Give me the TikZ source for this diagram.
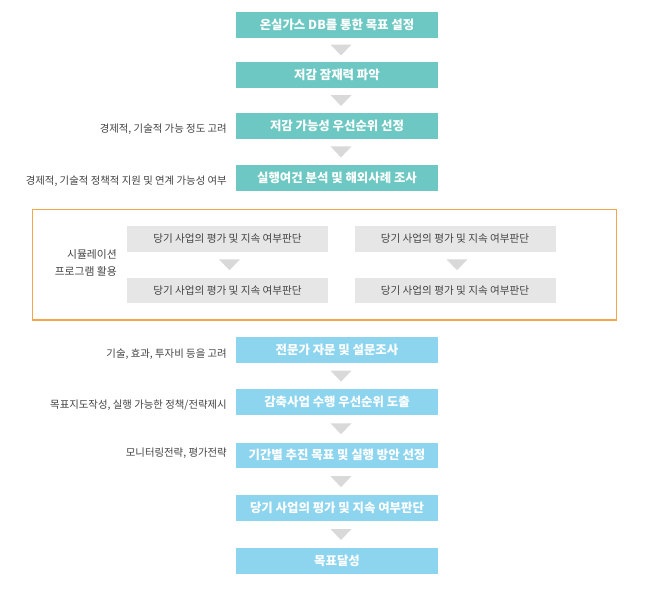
\documentclass[tikz,border=0pt]{standalone}
\usepackage{fontspec}
\setmainfont{Noto Sans CJK KR}
\usetikzlibrary{calc}
\definecolor{tealc}{HTML}{6DC8C3}
\definecolor{bluec}{HTML}{8DD4EF}
\definecolor{orangec}{HTML}{F6A647}
\definecolor{grayboxc}{HTML}{E6E6E6}
\definecolor{arrowc}{HTML}{D9D9D9}
\definecolor{txtc}{HTML}{444444}
\tikzset{
  mainbox/.style={minimum width=202pt, minimum height=25.5pt, inner sep=0pt, text=white, font=\fontsize{12.4}{14}\selectfont\bfseries},
  tealbox/.style={mainbox, fill=tealc},
  bluebox/.style={mainbox, fill=bluec},
  graybox/.style={minimum width=201pt, minimum height=25.5pt, inner sep=0pt, fill=grayboxc, text=txtc, font=\fontsize{10.6}{12}\selectfont},
  sidelabel/.style={anchor=east, inner sep=0pt, text=txtc, font=\fontsize{10.4}{12}\selectfont},
  tri/.style={fill=arrowc}
}
\begin{document}
\begin{tikzpicture}[x=1pt, y=-1pt]
\useasboundingbox (0,0) rectangle (650,595);
\fill[white] (0,0) rectangle (650,595);

% main teal boxes
\node[tealbox] (b1) at (337,25) {온실가스 DB를 통한 목표 설정};
\node[tealbox] (b2) at (337,75) {저감 잠재력 파악};
\node[tealbox] (b3) at (337,126) {저감 가능성 우선순위 선정};
\node[tealbox] (b4) at (337,177.8) {실행여건 분석 및 해외사례 조사};

% side labels
\node[sidelabel] (l3) at (227,129) {경제적, 기술적 가능 정도 고려};
\node[sidelabel] (l4) at (227,181) {경제적, 기술적 정책적 지원 및 연계 가능성 여부};

% orange frame
\node[draw=orangec, line width=1.3pt, minimum width=584pt, minimum height=110.5pt, inner sep=0pt] (frame) at (324.5,264.7) {};

\node[graybox] (g1) at (227.5,239) {당기 사업의 평가 및 지속 여부판단};
\node[graybox] (g2) at (227.5,290.5) {당기 사업의 평가 및 지속 여부판단};
\node[graybox] (g3) at (455,239) {당기 사업의 평가 및 지속 여부판단};
\node[graybox] (g4) at (455,290.5) {당기 사업의 평가 및 지속 여부판단};

\node[anchor=east, inner sep=0pt, text=txtc, font=\fontsize{10.8}{17}\selectfont, align=right] (sim) at (117,262.5) {시뮬레이션\\프로그램 활용};

% blue boxes
\node[bluebox] (b5) at (337,350) {전문가 자문 및 설문조사};
\node[bluebox] (b6) at (337,402.2) {감축사업 수행 우선순위 도출};
\node[bluebox] (b7) at (337,455.3) {기간별 추진 목표 및 실행 방안 선정};
\node[bluebox] (b8) at (337,508) {당기 사업의 평가 및 지속 여부판단};
\node[bluebox] (b9) at (337,561) {목표달성};

\node[sidelabel] (l5) at (227,354) {기술, 효과, 투자비 등을 고려};
\node[sidelabel] (l6) at (227,405.5) {목표지도작성, 실행 가능한 정책/전략제시};
\node[sidelabel] (l7) at (227,453.5) {모니터링전략, 평가전략};

% triangles between boxes
\foreach \a/\b/\dx in {b1/b2/4, b2/b3/4, b3/b4/4, b5/b6/4, b6/b7/4, b7/b8/4, b8/b9/4, g1/g2/2, g3/g4/2}{
  \coordinate (m-\a) at ($(\a.south)!0.5!(\b.north)$);
  \fill[tri] ([xshift=\dx pt-10.5pt, yshift=5.5pt]m-\a) -- ++(21,0) -- ++(-10.5,11) -- cycle;
}
\end{tikzpicture}
\end{document}
